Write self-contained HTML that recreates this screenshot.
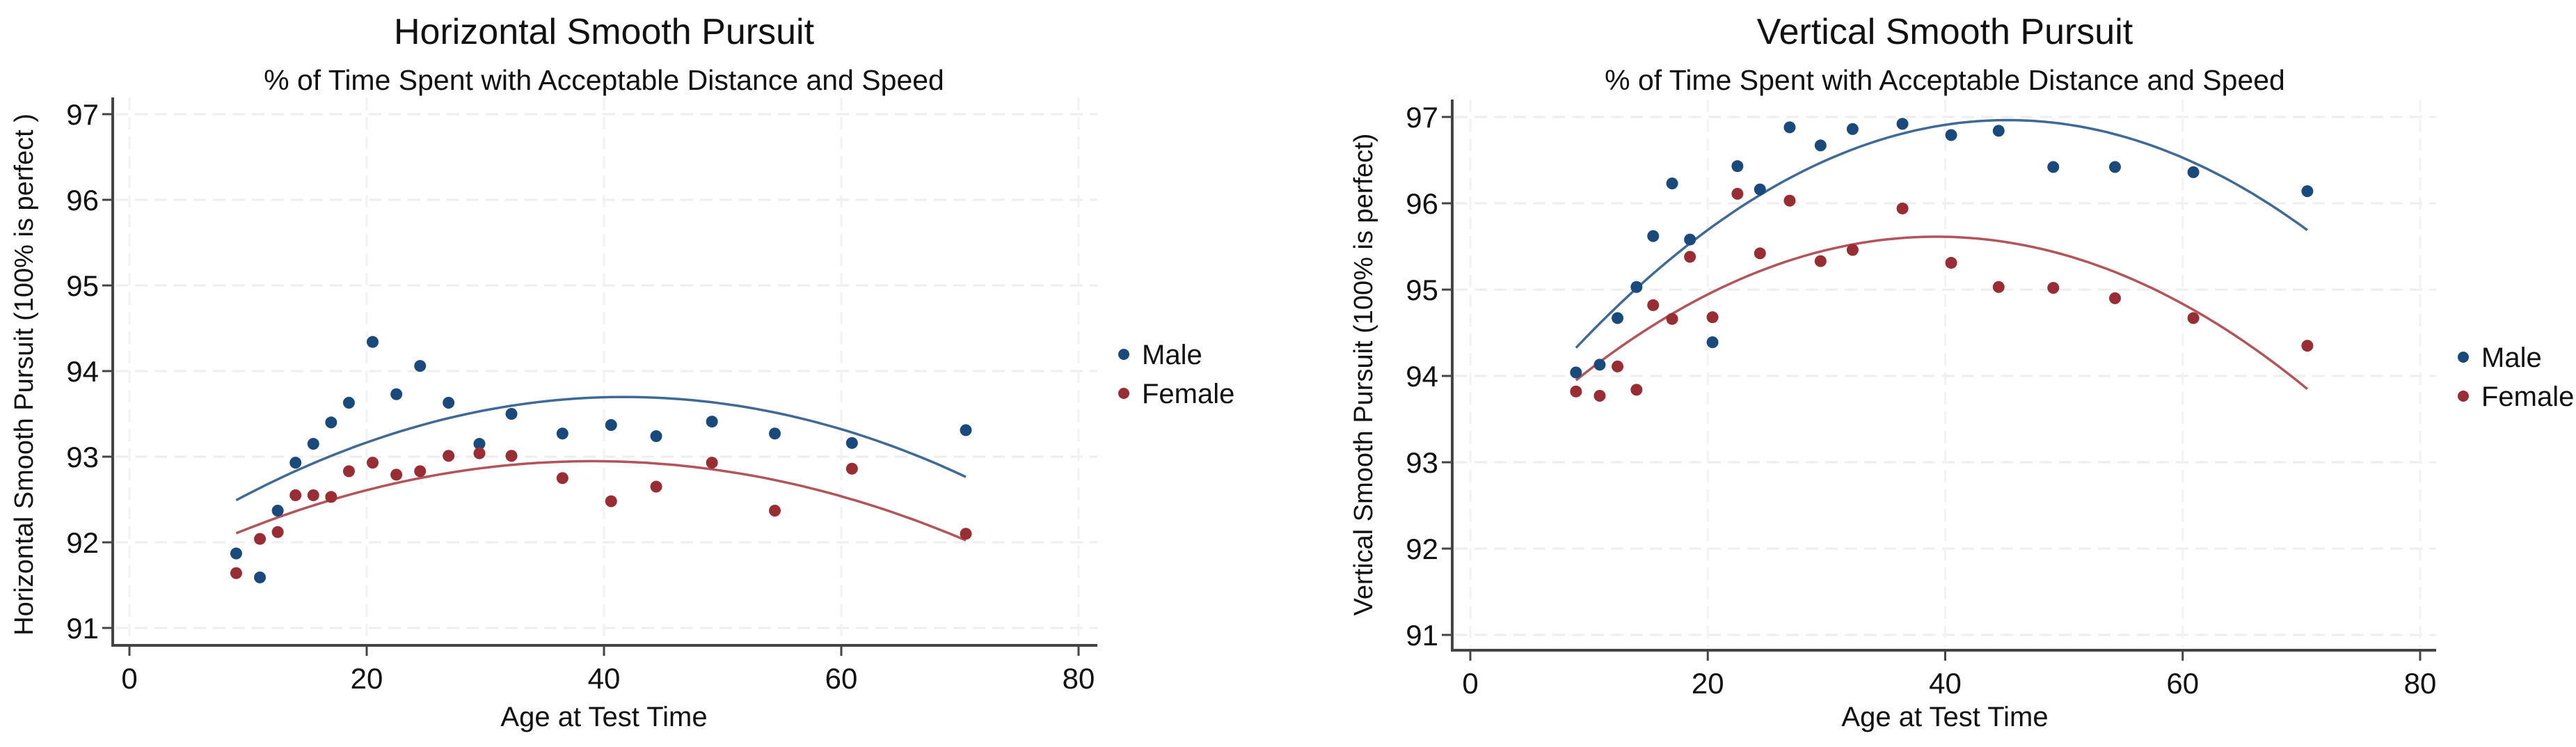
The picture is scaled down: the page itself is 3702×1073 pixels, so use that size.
<!DOCTYPE html>
<html><head><meta charset="utf-8">
<style>
html,body{margin:0;padding:0;background:#fff;}
svg{display:block;font-family:"Liberation Sans",Arial,sans-serif;}
</style></head>
<body>
<svg id="root" width="3702" height="1073" viewBox="0 0 3702 1073" xmlns="http://www.w3.org/2000/svg">
<rect width="3702" height="1073" fill="#fff"/>
</svg>
<script>
// ---- data ----
const hAges = [9.0,11.0,12.5,14.0,15.5,17.0,18.5,20.5,22.5,24.5,26.9,29.5,32.2,36.5,40.6,44.4,49.1,54.4,60.9,70.5];
const hMale = [91.87,91.59,92.37,92.93,93.15,93.40,93.63,94.34,93.73,94.06,93.63,93.15,93.50,93.27,93.37,93.24,93.41,93.27,93.16,93.31];
const hFemale = [91.64,92.04,92.12,92.55,92.55,92.53,92.83,92.93,92.79,92.83,93.01,93.04,93.01,92.75,92.48,92.65,92.93,92.37,92.86,92.10];
const vAges = [8.9,10.9,12.4,14.0,15.4,17.0,18.5,20.4,22.5,24.4,26.9,29.5,32.2,36.4,40.5,44.5,49.1,54.3,60.9,70.5];
const vMale = [94.04,94.13,94.67,95.03,95.62,96.23,95.58,94.39,96.43,96.16,96.88,96.67,96.86,96.92,96.79,96.84,96.42,96.42,96.36,96.14];
const vFemale = [93.82,93.77,94.11,93.84,94.82,94.66,95.38,94.68,96.11,95.42,96.03,95.33,95.46,95.94,95.31,95.03,95.02,94.90,94.67,94.35];
const xTicks = [0,20,40,60,80];
const yTicks = [91,92,93,94,95,96,97];
const seriesNames = ["Male","Female"];

const NS="http://www.w3.org/2000/svg";
const root=document.getElementById('root');
const MALE="#1a4a7c", FEMALE="#982d33", MALEFIT="#3f6a96", FEMALEFIT="#b2545a";

function mk(tag,attrs,parent){const e=document.createElementNS(NS,tag);for(const k in attrs)e.setAttribute(k,attrs[k]);(parent||root).appendChild(e);return e;}

function qfit(xs,ys){
  let n=xs.length,S=[0,0,0,0,0],T=[0,0,0];
  for(let i=0;i<n;i++){let p=1;for(let k=0;k<5;k++){S[k]+=p;if(k<3)T[k]+=p*ys[i];p*=xs[i];}}
  const M=[[S[0],S[1],S[2],T[0]],[S[1],S[2],S[3],T[1]],[S[2],S[3],S[4],T[2]]];
  for(let c=0;c<3;c++){for(let r=c+1;r<3;r++){const f=M[r][c]/M[c][c];for(let k=c;k<4;k++)M[r][k]-=f*M[c][k];}}
  const b=[0,0,0];for(let r=2;r>=0;r--){let s=M[r][3];for(let k=r+1;k<3;k++)s-=M[r][k]*b[k];b[r]=s/M[r][r];}
  return b;
}

function chart(cfg){
  const g=mk('g',{});
  
  
  const X=v=>cfg.x0+(v-0)*(cfg.x80-cfg.x0)/80;
  const Y=v=>cfg.y91+(v-91)*(cfg.y97-cfg.y91)/6;
  yTicks.forEach(t=>{const l=mk('line',{x1:cfg.axX+4,x2:cfg.right,y1:Y(t),y2:Y(t),stroke:'#eeeeee','stroke-width':3,'stroke-dasharray':'18 10'},g);
    });
  xTicks.forEach(t=>{const l=mk('line',{x1:X(t),x2:X(t),y1:cfg.top,y2:cfg.axY-4,stroke:'#f2f2f2','stroke-width':3,'stroke-dasharray':'18 10'},g);
    });
  const ya=mk('line',{x1:cfg.axX,x2:cfg.axX,y1:cfg.top,y2:cfg.axY+2,stroke:'#444','stroke-width':4},g);
  
  const xa=mk('line',{x1:cfg.axX-2,x2:cfg.right,y1:cfg.axY,y2:cfg.axY,stroke:'#444','stroke-width':4},g);
  
  yTicks.forEach(t=>{mk('line',{x1:cfg.axX-15,x2:cfg.axX,y1:Y(t),y2:Y(t),stroke:'#444','stroke-width':3},g);
    const tx=mk('text',{x:cfg.axX-20,y:Y(t)+15,'text-anchor':'end','font-size':42,fill:'#111'},g);tx.textContent=t;
    });
  xTicks.forEach(t=>{mk('line',{x1:X(t),x2:X(t),y1:cfg.axY,y2:cfg.axY+15,stroke:'#444','stroke-width':3},g);
    const tx=mk('text',{x:X(t),y:cfg.axY+62,'text-anchor':'middle','font-size':42,fill:'#111'},g);tx.textContent=t;
    });
  const t1=mk('text',{x:cfg.cx,y:63,'text-anchor':'middle','font-size':52,fill:'#111'},g);t1.textContent=cfg.title;
  
  const t2=mk('text',{x:cfg.cx,y:129,'text-anchor':'middle','font-size':41,fill:'#111'},g);t2.textContent='% of Time Spent with Acceptable Distance and Speed';
  
  const xt=mk('text',{x:cfg.cx,y:1043,'text-anchor':'middle','font-size':40,fill:'#111'},g);xt.textContent='Age at Test Time';
  
  const yt=mk('text',{x:0,y:0,'text-anchor':'middle','font-size':38,fill:'#111',transform:`translate(${cfg.ytX},${cfg.ytY}) rotate(-90)`},g);yt.textContent=cfg.ytitle;
  
  [[cfg.male,MALEFIT,'male-fit-line'],[cfg.female,FEMALEFIT,'female-fit-line']].forEach(([ys,col,nm])=>{
    const b=qfit(cfg.ages,ys);const lo=Math.min(...cfg.ages),hi=Math.max(...cfg.ages);let d='';
    for(let i=0;i<=80;i++){const a=lo+(hi-lo)*i/80;const v=b[0]+b[1]*a+b[2]*a*a;d+=(i?'L':'M')+X(a).toFixed(1)+','+Y(v).toFixed(1);}
    const p=mk('path',{d:d,fill:'none',stroke:col,'stroke-width':3.5},g);
    
  });
  [[cfg.male,MALE,'male-point'],[cfg.female,FEMALE,'female-point']].forEach(([ys,col,nm])=>{
    ys.forEach((v,i)=>{const c=mk('circle',{cx:X(cfg.ages[i]),cy:Y(v),r:8.5,fill:col},g);
      });
  });
  [[MALE,0],[FEMALE,1]].forEach(([col,i])=>{
    const lg=mk('g',{},g);
    
    
    const yy=cfg.legY+i*56;
    mk('circle',{cx:cfg.legX,cy:yy,r:8,fill:col},lg);
    const tx=mk('text',{x:cfg.legX+26,y:yy+14,'font-size':40,fill:'#111'},lg);tx.textContent=seriesNames[i];
  });
}

chart({name:'horizontal-chart',ages:hAges,male:hMale,female:hFemale,x0:186,x80:1550,y91:902,y97:164,
  axX:162,axY:927,top:140,right:1577,cx:868,title:'Horizontal Smooth Pursuit',
  ytitle:'Horizontal Smooth Pursuit (100% is perfect )',ytX:47,ytY:538,legX:1615,legY:509});
chart({name:'vertical-chart',ages:vAges,male:vMale,female:vFemale,x0:2113,x80:3478,y91:912,y97:168,
  axX:2087,axY:934,top:143,right:3501,cx:2795,title:'Vertical Smooth Pursuit',
  ytitle:'Vertical Smooth Pursuit (100% is perfect)',ytX:1972,ytY:538,legX:3540,legY:513});
</script>
</body></html>
